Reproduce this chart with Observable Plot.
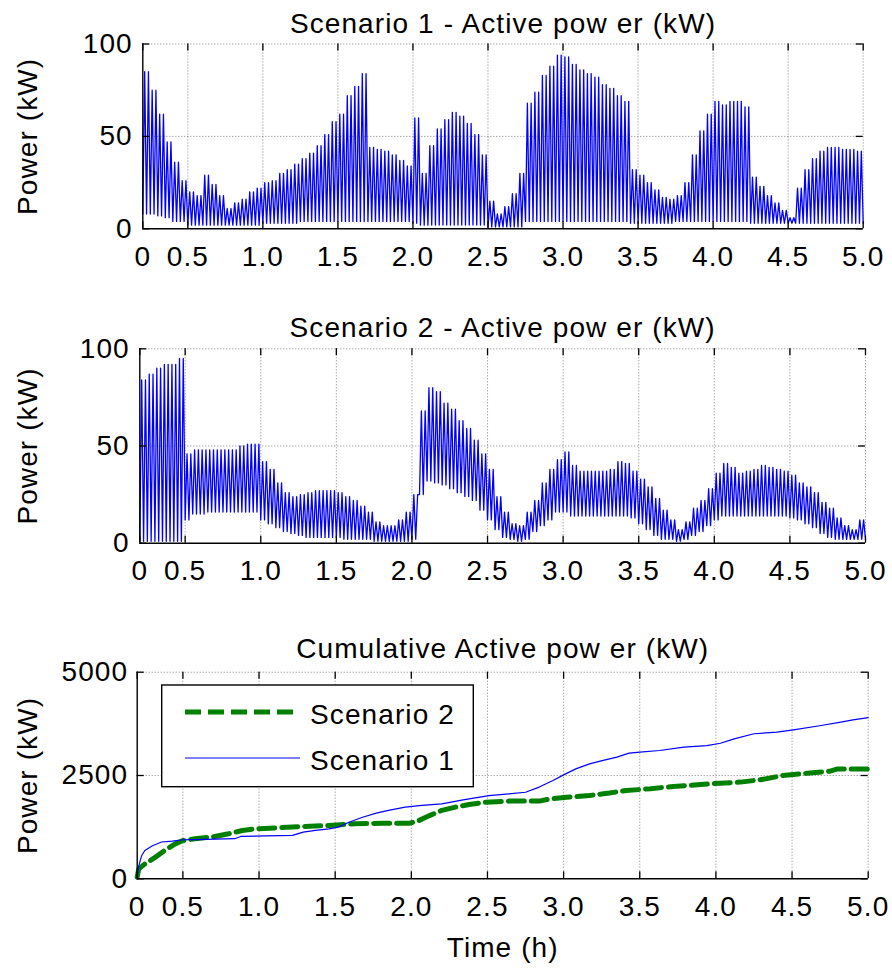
<!DOCTYPE html>
<html><head><meta charset="utf-8">
<script src="https://cdn.jsdelivr.net/npm/d3@7"></script>
<script src="https://cdn.jsdelivr.net/npm/@observablehq/plot@0.6"></script>
<style>
body{margin:0;background:#fff;}
#wrap{position:relative;width:892px;height:976px;overflow:hidden;background:#fff;}
#wrap svg{display:block;}
#legend{position:absolute;left:0;top:0;}
</style></head><body><div id="wrap"></div>
<script>
const FONT = "'Liberation Sans', Arial, Helvetica, sans-serif";

// x ticks (left edge of the plots is labelled 0)
const xTicks = [0.2, 0.5, 1.0, 1.5, 2.0, 2.5, 3.0, 3.5, 4.0, 4.5, 5.0];
const xTickLabels = ["0", "0.5", "1.0", "1.5", "2.0", "2.5", "3.0", "3.5", "4.0", "4.5", "5.0"];
const yTicksP = [0, 50, 100];
const yTicksC = [0, 2500, 5000];

// sampling grid of the pulsed signals (start of each 0.05 h step, two pulses per step)
const sampleStart = 0.2, sampleStep = 0.05, pulsesPerStep = 2;

// Scenario 1 - upper / lower envelope of the pulses in each step
const s1High = [85,75,62,47,36,26,20,18,29,24,18,11,14,16,20,22,25,26,30,32,35,38,41,45,51,58,62,72,77,84,
  44,43,42,40,37,34,60,30,45,54,59,63,61,57,51,40,15,8,12,19,30,68,74,83,88,94,93,89,86,84,
  82,78,76,72,69,32,29,25,21,17,16,18,25,40,53,62,69,67,69,69,66,28,23,18,14,10,6,22,32,38,
  42,44,44,43,43,42];
const s1Low = [8,8,7,6,4,4,2,2,2,2,2,2,2,2,2,2,3,3,3,3,3,4,4,4,4,4,4,4,4,4,
  4,4,4,4,4,4,3,2,2,2,2,2,2,2,2,2,1,1,1,1,1,4,4,4,4,4,4,4,4,4,
  4,4,4,4,4,3,3,3,3,3,3,4,4,4,4,4,4,4,4,4,4,3,3,3,3,3,3,3,3,3,
  3,3,3,3,3,3];

// Scenario 2 - upper / lower envelope of the pulses in each step
const s2High = [84,87,90,92,92,95,46,48,48,48,48,48,48,50,51,51,42,38,31,26,24,25,26,27,27,27,26,24,22,19,
  16,11,9,9,12,16,25,68,80,78,72,69,63,59,53,46,38,24,16,10,9,16,22,31,38,43,47,40,37,37,
  37,37,38,42,41,37,33,29,23,17,12,7,11,18,22,28,36,41,39,36,37,38,40,39,38,37,35,31,29,26,
  21,18,13,9,7,12];
const s2Low = [1,1,1,1,1,1,12,15,15,16,16,16,16,16,16,16,12,10,8,6,5,4,3,3,3,3,3,2,2,2,
  2,1,1,1,1,1,2,25,32,31,30,28,26,24,22,17,12,7,3,2,1,2,6,9,12,16,16,14,14,14,
  14,14,14,14,14,13,10,7,4,2,2,1,2,4,6,9,12,14,14,14,14,14,14,14,14,14,13,12,10,8,
  5,3,2,2,2,2];

// Cumulative active power (kW)
const cum1T = [0.2,0.21,0.22,0.23,0.25,0.3,0.36,0.43,0.5,0.58,0.84,0.88,1.22,1.29,1.37,1.46,1.52,1.59,1.68,1.77,
  1.85,1.96,2.07,2.2,2.34,2.51,2.64,2.75,2.84,2.93,3.0,3.08,3.17,3.26,3.35,3.43,3.5,3.63,3.79,3.94,
  4.03,4.12,4.25,4.4,4.51,4.69,4.82,4.9,5.0];
const cum1V = [40,300,440,565,685,800,890,910,945,950,970,1025,1050,1130,1170,1210,1250,1370,1490,1590,
  1655,1735,1775,1815,1910,2015,2055,2095,2220,2380,2515,2660,2780,2865,2945,3040,3065,3105,3185,3225,
  3280,3385,3510,3550,3605,3710,3790,3845,3900];
const cum2T = [0.2,0.21,0.25,0.32,0.38,0.45,0.5,0.58,0.69,0.8,0.89,0.98,1.13,1.28,1.46,1.63,1.81,1.99,2.05,2.12,
  2.2,2.29,2.38,2.49,2.64,2.84,2.91,3.02,3.17,3.3,3.41,3.57,3.72,3.9,4.03,4.16,4.29,4.44,4.6,4.75,4.8,5.0];
const cum2V = [40,240,360,525,685,845,925,970,1010,1090,1170,1210,1235,1265,1290,1330,1345,1345,1410,1530,
  1655,1735,1800,1855,1880,1880,1935,1975,2015,2075,2135,2180,2235,2280,2315,2340,2395,2500,2555,2605,2660,2660];

function pulses(hi, lo) {
  const pts = [];
  const w = sampleStep / pulsesPerStep;
  hi.forEach((h, i) => {
    const t = sampleStart + i * sampleStep;
    for (let k = 0; k < pulsesPerStep; k++) {
      pts.push({t: t + k * w, v: lo[i]});
      pts.push({t: t + k * w + w / 2, v: h});
    }
  });
  pts.push({t: 5.0, v: lo[lo.length - 1]});
  return pts;
}

const GRID = {stroke: "#777", strokeDasharray: "1,2", strokeWidth: 0.9, strokeOpacity: 1};
const TXT = {fontSize: 28, fill: "black", lineAnchor: "middle"};

function panel(o) {
  const fw = 892 - o.ml - o.mr, fh = o.height - o.mt - o.mb;
  const TL = 7;
  return Plot.plot({
    width: 892, height: o.height,
    marginLeft: o.ml, marginRight: o.mr, marginTop: o.mt, marginBottom: o.mb,
    x: {domain: [0.2, 5.0], axis: null},
    y: {domain: o.yDomain, axis: null},
    style: {fontFamily: FONT, fontSize: "28px", letterSpacing: "1.1px", background: "white", color: "black", overflow: "visible"},
    marks: [
      Plot.ruleX(xTicks.slice(1), {x: d => d, ...GRID}),
      Plot.ruleY(o.yTicks.slice(1), {y: d => d, ...GRID}),
      ...o.marks,
      Plot.ruleX([xTicks[0]], {x: d => d, stroke: "black", strokeWidth: 1.4}),
      Plot.ruleY([o.yDomain[0]], {y: d => d, stroke: "black", strokeWidth: 1.4}),
      // inward tick marks
      Plot.ruleX(xTicks, {x: d => d, insetTop: fh - TL, stroke: "black", strokeWidth: 1.3}),
      Plot.ruleX(xTicks, {x: d => d, insetBottom: fh - TL, stroke: "black", strokeWidth: 1.3}),
      Plot.ruleY(o.yTicks, {y: d => d, insetRight: fw - TL, stroke: "black", strokeWidth: 1.3}),
      Plot.ruleY(o.yTicks, {y: d => d, insetLeft: fw - TL, stroke: "black", strokeWidth: 1.3}),
      // tick labels
      Plot.text(xTicks, {x: d => d, frameAnchor: "bottom", dy: 28, textAnchor: "middle", text: (d, i) => xTickLabels[i], ...TXT}),
      Plot.text(o.yTicks, {y: d => d, frameAnchor: "left", dx: o.ydx, textAnchor: "end", text: d => String(d), ...TXT}),
      // title and axis labels
      Plot.text([o.title], {frameAnchor: "top", dy: o.titleDy, textAnchor: "middle", text: d => d, ...TXT}),
      Plot.text(["Power (kW)"], {frameAnchor: "left", dx: 28 - o.ml, rotate: -90, textAnchor: "middle", text: d => d, ...TXT}),
      ...(o.extra || [])
    ]
  });
}

const wrap = document.getElementById("wrap");

wrap.appendChild(panel({
  height: 290, ml: 142.3, mr: 29.3, mt: 43.5, mb: 61.7,
  yDomain: [0, 100], yTicks: yTicksP, ydx: -10, titleDy: -20,
  title: "Scenario 1 - Active pow er (kW)",
  marks: [Plot.line(pulses(s1High, s1Low), {x: "t", y: "v", stroke: "#0000ff", strokeWidth: 1.3})]
}));

wrap.appendChild(panel({
  height: 320, ml: 139.3, mr: 27, mt: 58.3, mb: 67.3,
  yDomain: [0, 100], yTicks: yTicksP, ydx: -10, titleDy: -21,
  title: "Scenario 2 - Active pow er (kW)",
  marks: [Plot.line(pulses(s2High, s2Low), {x: "t", y: "v", stroke: "#0000ff", strokeWidth: 1.3})]
}));

const c1 = cum1T.map((t, i) => ({t, v: cum1V[i]}));
const c2 = cum2T.map((t, i) => ({t, v: cum2V[i]}));
wrap.appendChild(panel({
  height: 366, ml: 136.7, mr: 24.3, mt: 61.7, mb: 97.7,
  yDomain: [0, 5000], yTicks: yTicksC, ydx: -9, titleDy: -23.5,
  title: "Cumulative Active pow er (kW)",
  marks: [
    Plot.line(c2, {x: "t", y: "v", stroke: "#008000", strokeWidth: 5, strokeDasharray: "16,7"}),
    Plot.line(c1, {x: "t", y: "v", stroke: "#0000ff", strokeWidth: 1.2})
  ],
  extra: [Plot.text(["Time (h)"], {frameAnchor: "bottom", dy: 69, textAnchor: "middle", text: d => d, ...TXT})]
}));

// legend overlay (inside the cumulative panel)
const legendItems = [
  {name: "Scenario 2", color: "#008000", width: 5, dash: "16,7"},
  {name: "Scenario 1", color: "#0000ff", width: 1.2, dash: null}
];
const NS = "http://www.w3.org/2000/svg";
const lg = document.createElementNS(NS, "svg");
lg.setAttribute("id", "legend");
lg.setAttribute("width", 892);
lg.setAttribute("height", 976);
lg.style.fontFamily = FONT;
lg.style.letterSpacing = "1.1px";
lg.style.pointerEvents = "none";
const box = document.createElementNS(NS, "rect");
box.setAttribute("x", 161.7); box.setAttribute("y", 685);
box.setAttribute("width", 311.6); box.setAttribute("height", 101.7);
box.setAttribute("fill", "white"); box.setAttribute("stroke", "black"); box.setAttribute("stroke-width", 1.4);
lg.appendChild(box);
legendItems.forEach((it, i) => {
  const y = 712 + i * 46;
  const ln = document.createElementNS(NS, "line");
  ln.setAttribute("x1", 185); ln.setAttribute("x2", 300);
  ln.setAttribute("y1", y); ln.setAttribute("y2", y);
  ln.setAttribute("stroke", it.color); ln.setAttribute("stroke-width", it.width);
  if (it.dash) ln.setAttribute("stroke-dasharray", it.dash);
  lg.appendChild(ln);
  const tx = document.createElementNS(NS, "text");
  tx.setAttribute("x", 310); tx.setAttribute("y", y + 3);
  tx.setAttribute("dy", "0.32em");
  tx.setAttribute("font-size", 28);
  tx.textContent = it.name;
  lg.appendChild(tx);
});
wrap.appendChild(lg);
</script>
</body></html>
